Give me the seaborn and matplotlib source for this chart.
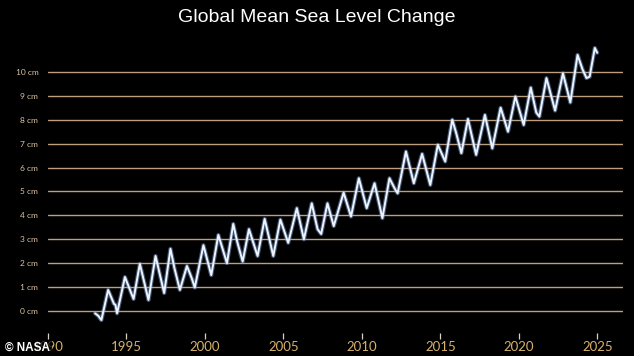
import numpy as np
import pandas as pd
import seaborn as sns
import matplotlib
matplotlib.use("Agg")
import matplotlib.pyplot as plt

# values (decimal year, cm)
years = [1993.0, 1993.2, 1993.4, 1993.83, 1994.2, 1994.3, 1994.4, 1994.9, 1995.45, 1995.85,
         1996.4, 1996.85, 1997.4, 1997.8, 1998.05, 1998.4, 1998.85, 1999.15, 1999.35, 1999.9,
         2000.4, 2000.85, 2001.4, 2001.8, 2002.05, 2002.4, 2002.8, 2003.35, 2003.8, 2004.35,
         2004.8, 2005.3, 2005.85, 2006.3, 2006.8, 2007.17, 2007.4, 2007.8, 2008.2, 2008.83,
         2009.3, 2009.8, 2010.3, 2010.8, 2011.3, 2011.75, 2012.1, 2012.27, 2012.8, 2013.3,
         2013.83, 2014.35, 2014.83, 2015.3, 2015.75, 2016.0, 2016.33, 2016.75, 2017.27, 2017.83,
         2018.3, 2018.83, 2019.3, 2019.77, 2020.3, 2020.75, 2021.1, 2021.3, 2021.75, 2022.3,
         2022.8, 2023.27, 2023.73, 2024.05, 2024.3, 2024.5, 2024.83, 2024.98]
sea_cm = [-0.10, -0.20, -0.38, 0.88, 0.30, 0.25, -0.10, 1.42, 0.50, 1.97,
          0.46, 2.30, 0.75, 2.60, 1.80, 0.88, 1.88, 1.38, 0.98, 2.75,
          1.50, 3.18, 2.00, 3.64, 2.90, 2.07, 3.42, 2.30, 3.85, 2.30,
          3.82, 2.85, 4.30, 3.00, 4.50, 3.42, 3.22, 4.50, 3.55, 4.95,
          3.95, 5.55, 4.30, 5.34, 3.88, 5.55, 5.10, 4.92, 6.67, 5.34,
          6.57, 5.27, 6.95, 6.25, 8.00, 7.44, 6.60, 8.03, 6.53, 8.20,
          6.80, 8.50, 7.50, 8.97, 7.78, 9.34, 8.30, 8.13, 9.74, 8.38,
          9.94, 8.72, 10.71, 10.10, 9.74, 9.80, 11.00, 10.80]
ytick_vals = list(range(0, 11))
ytick_labels = [f"{v} cm" for v in ytick_vals]
xtick_vals = [1990, 1995, 2000, 2005, 2010, 2015, 2020, 2025]

df = pd.DataFrame({"year": years, "cm": sea_cm})

sns.set_theme(style="dark", rc={"figure.facecolor": "black", "axes.facecolor": "black"})
plt.rcParams["font.family"] = ["Lato", "DejaVu Sans"]

fig = plt.figure(figsize=(6.34, 3.56), dpi=100)
ax = fig.add_axes([48 / 634, 1 - 332.5 / 356, 575 / 634, 296.5 / 356])

for v in ytick_vals:
    ax.axhline(v, color="#bd9f80", lw=1.0, zorder=1)

# soft blue glow under the white line
sns.lineplot(data=df, x="year", y="cm", ax=ax, color="#7fa6dc", lw=3.0, alpha=0.5,
             estimator=None, zorder=2)
line = sns.lineplot(data=df, x="year", y="cm", ax=ax, color="#eef4ff", lw=1.4,
                    estimator=None, zorder=3)
for l in ax.lines[-2:]:
    l.set_solid_joinstyle("round")

ax.set_xlim(1990.69, 2026.625)
ax.set_ylim(-0.9, 11.5)
ax.set_yticks(ytick_vals)
ax.set_yticklabels(ytick_labels)
ax.set_xticks(xtick_vals)
ax.set_xticklabels([str(v) for v in xtick_vals])
ax.tick_params(axis="y", length=0, pad=7, labelsize=6, labelcolor="#dcc3a2")
ax.tick_params(axis="x", length=4, width=0.9, color="#d8d0c0", pad=2,
               labelsize=9.5, labelcolor="#d8b26c", bottom=True)
ax.set_xlabel("")
ax.set_ylabel("")
ax.grid(False)
for s in ax.spines.values():
    s.set_visible(False)

fig.text(0.5, 1 - 17 / 356, "Global Mean Sea Level Change", color="white",
         fontsize=14, ha="center", va="center", family=["Liberation Sans", "DejaVu Sans"])
fig.text(5 / 634, 1 - 348 / 356, "© NASA", color="white", fontsize=8.5,
         fontweight="bold", ha="left", va="center", family=["Liberation Sans", "DejaVu Sans"],
         bbox=dict(facecolor="black", edgecolor="none", alpha=0.75, pad=1.5))

fig.savefig("out.png", dpi=100, facecolor="black")
